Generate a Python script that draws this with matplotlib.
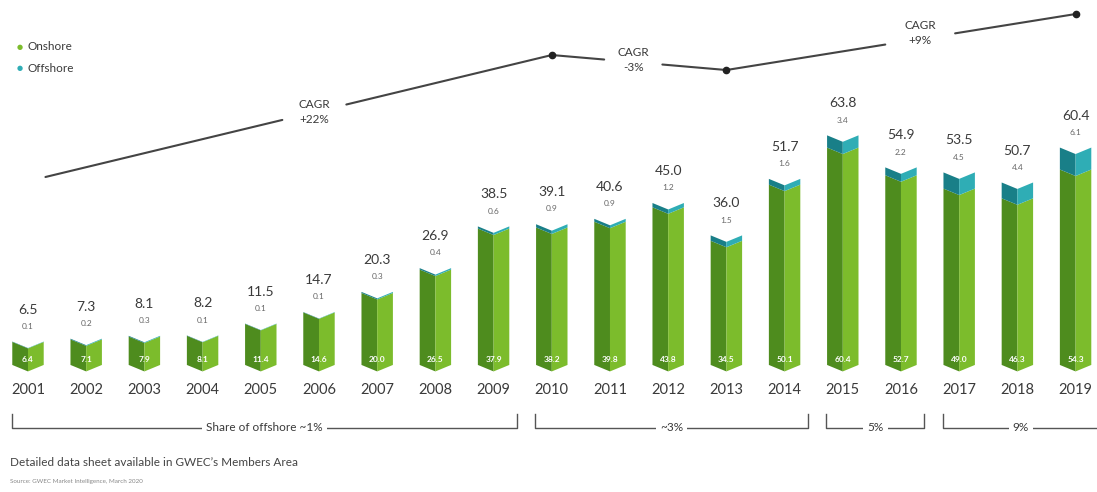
import matplotlib
matplotlib.use("Agg")
import matplotlib.pyplot as plt
import numpy as np

plt.rcParams['font.family'] = ['Lato', 'DejaVu Sans']

# ---- data ----
years = [2001, 2002, 2003, 2004, 2005, 2006, 2007, 2008, 2009, 2010,
         2011, 2012, 2013, 2014, 2015, 2016, 2017, 2018, 2019]
year_labels = ["2001", "2002", "2003", "2004", "2005", "2006", "2007", "2008", "2009", "2010",
               "2011", "2012", "2013", "2014", "2015", "2016", "2017", "2018", "2019"]
total = [6.5, 7.3, 8.1, 8.2, 11.5, 14.7, 20.3, 26.9, 38.5, 39.1,
         40.6, 45.0, 36.0, 51.7, 63.8, 54.9, 53.5, 50.7, 60.4]
offshore = [0.1, 0.2, 0.3, 0.1, 0.1, 0.1, 0.3, 0.4, 0.6, 0.9,
            0.9, 1.2, 1.5, 1.6, 3.4, 2.2, 4.5, 4.4, 6.1]
onshore = [6.4, 7.1, 7.9, 8.1, 11.4, 14.6, 20.0, 26.5, 37.9, 38.2,
           39.8, 43.8, 34.5, 50.1, 60.4, 52.7, 49.0, 46.3, 54.3]

# CAGR periods: (start index, end index, label)
cagr_periods = [(0, 9, "CAGR\n+22%"), (9, 12, "CAGR\n-3%"), (12, 18, "CAGR\n+9%")]
# offshore share brackets: (first index, last index, label)
share_groups = [(0, 8, "Share of offshore ~1%"), (9, 13, "~3%"), (14, 15, "5%"), (16, 18, "9%")]

# ---- styling ----
GREEN_D = "#4e8c1e"
GREEN_L = "#7cbc2c"
TEAL_D = "#197f88"
TEAL_L = "#2fadb5"
TXT = "#3a3a3a"

fig = plt.figure(figsize=(10.97, 4.92), dpi=100)
ax = fig.add_axes([0, 0, 1, 1])
ax.axis('off')
ax.set_xlim(-0.481, 18.368)
ax.set_ylim(-35.3, 101.4)

W = 0.54   # bar width
D = 1.8    # chevron depth

x = np.arange(len(years))

def chevron_halves(xc, y0, y1, cl, cr):
    h = W / 2
    ax.fill([xc - h, xc, xc, xc - h], [y0, y0 - D, y1 - D, y1], color=cl, lw=0, zorder=2)
    ax.fill([xc, xc + h, xc + h, xc], [y0 - D, y0, y1, y1 - D], color=cr, lw=0, zorder=2)

for i in x:
    chevron_halves(i, 0, onshore[i], GREEN_D, GREEN_L)
    chevron_halves(i, onshore[i], total[i], TEAL_D, TEAL_L)
    # labels
    ax.annotate(f"{total[i]:.1f}", (i, total[i]), xytext=(0, 23), textcoords='offset points',
                ha='center', va='center', fontsize=10, color=TXT)
    ax.annotate(f"{offshore[i]:.1f}", (i, total[i]), xytext=(0, 11), textcoords='offset points',
                ha='center', va='center', fontsize=6, color="#666666")
    ax.text(i, 1.6, f"{onshore[i]:.1f}", ha='center', va='center', fontsize=6,
            color='white', fontweight='bold', zorder=3)
    ax.text(i, -6.9, year_labels[i], ha='center', va='center', fontsize=10.5, color=TXT)

# ---- CAGR lines ----
def py(p):  # pixel row -> data y (layout helper)
    return (365 - p) / 3.6

cagr_pts_x = [0.3, 9, 12, 18]
cagr_pts_y = [py(177), py(55), py(70), py(14)]
text_pos = [(4.92, py(112)), (10.4, py(60)), (15.33, py(33))]
gaps = [0.55, 0.5, 0.6]
for k, (a, b, lab) in enumerate(cagr_periods):
    x0, y0 = cagr_pts_x[k], cagr_pts_y[k]
    x1, y1 = cagr_pts_x[k + 1], cagr_pts_y[k + 1]
    tx, ty = text_pos[k]
    g = gaps[k]
    t0 = (tx - g - x0) / (x1 - x0)
    t1 = (tx + g - x0) / (x1 - x0)
    ax.plot([x0, x0 + t0 * (x1 - x0)], [y0, y0 + t0 * (y1 - y0)], color="#444444", lw=1.5,
            solid_capstyle='round', zorder=4)
    ax.plot([x0 + t1 * (x1 - x0), x1], [y0 + t1 * (y1 - y0), y1], color="#444444", lw=1.5,
            solid_capstyle='round', zorder=4)
    ax.plot([x1], [y1], 'o', color="#222222", ms=4.5, zorder=5)
    ax.text(tx, ty, lab, ha='center', va='center', fontsize=8.5, color=TXT, linespacing=1.5)

# ---- share-of-offshore brackets ----
yb = py(428)
yt = py(414)
for a, b, lab in share_groups:
    l = a - 0.28
    r = b + 0.4
    ax.plot([l, l, r, r], [yt, yb, yb, yt], color="#555555", lw=1.0, zorder=2)
    ax.text((l + r) / 2, yb, lab, ha='center', va='center', fontsize=8.5, color=TXT,
            bbox=dict(boxstyle='square,pad=0.35', fc='white', ec='none'), zorder=3)

# ---- legend ----
fig.text(20 / 1097, 1 - 47 / 492, "\u25CF", color=GREEN_L, fontsize=5, ha='center', va='center',
         family='DejaVu Sans')
fig.text(28 / 1097, 1 - 47 / 492, "Onshore", color=TXT, fontsize=8.5, ha='left', va='center')
fig.text(20 / 1097, 1 - 68 / 492, "\u25CF", color=TEAL_L, fontsize=5, ha='center', va='center',
         family='DejaVu Sans')
fig.text(28 / 1097, 1 - 68 / 492, "Offshore", color=TXT, fontsize=8.5, ha='left', va='center')

# ---- footer ----
fig.text(10 / 1097, 1 - 463 / 492, "Detailed data sheet available in GWEC\u2019s Members Area",
         color="#444444", fontsize=8.5, ha='left', va='center')
fig.text(10 / 1097, 1 - 481 / 492, "Source: GWEC Market Intelligence, March 2020",
         color="#888888", fontsize=4.5, ha='left', va='center')

fig.savefig("out.png", dpi=100, facecolor='white')
